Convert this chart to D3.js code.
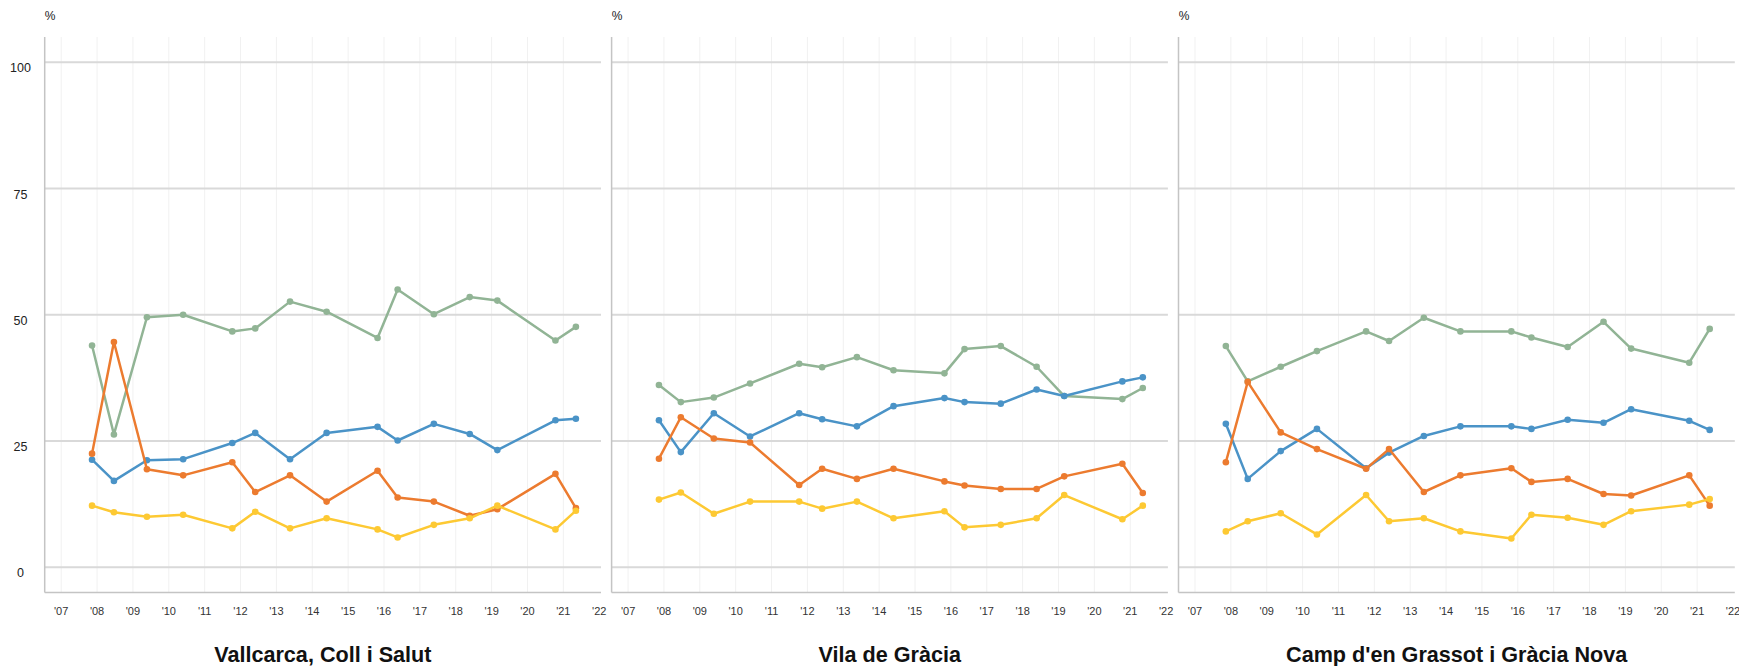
<!DOCTYPE html>
<html>
<head>
<meta charset="utf-8">
<script src="https://cdn.jsdelivr.net/npm/d3@7"></script>
<style>
  html, body { margin: 0; padding: 0; background: #fff; }
  svg { display: block; font-family: "Liberation Sans", Arial, sans-serif; }
</style>
</head>
<body>
<svg id="chart" width="1739" height="666"></svg>
<script>
// ---- DATA ----
const neighbourhoods = ["Vallcarca, Coll i Salut", "Vila de Gràcia", "Camp d'en Grassot i Gràcia Nova"];
// survey dates as fractional years
const dates = [2007.86, 2008.47, 2009.39, 2010.40, 2011.77, 2012.41, 2013.38, 2014.40, 2015.82, 2016.38, 2017.39, 2018.39, 2019.16, 2020.78, 2021.35];
const yearTicks = [2007, 2008, 2009, 2010, 2011, 2012, 2013, 2014, 2015, 2016, 2017, 2018, 2019, 2020, 2021, 2022];
const yTicks = [0, 25, 50, 75, 100];

// one row per neighbourhood
const greenValues = [
  [43.9, 26.3, 49.5, 50.0, 46.7, 47.3, 52.6, 50.6, 45.4, 55.0, 50.1, 53.5, 52.8, 44.9, 47.6],
  [36.1, 32.7, 33.6, 36.4, 40.3, 39.6, 41.6, 39.0, 38.4, 43.2, 43.8, 39.7, 33.9, 33.3, 35.5],
  [43.8, 36.8, 39.7, 42.8, 46.7, 44.8, 49.4, 46.7, 46.7, 45.5, 43.6, 48.6, 43.3, 40.5, 47.2]
];
const blueValues = [
  [21.3, 17.1, 21.2, 21.4, 24.6, 26.6, 21.4, 26.6, 27.8, 25.1, 28.4, 26.4, 23.2, 29.1, 29.4],
  [29.1, 22.8, 30.5, 25.9, 30.5, 29.3, 27.9, 31.9, 33.5, 32.7, 32.4, 35.2, 33.9, 36.8, 37.6],
  [28.4, 17.5, 23.0, 27.4, 19.6, 22.7, 26.0, 27.9, 27.9, 27.4, 29.2, 28.6, 31.3, 29.0, 27.2]
];
const orangeValues = [
  [22.5, 44.6, 19.4, 18.2, 20.8, 14.9, 18.2, 13.0, 19.1, 13.8, 13.0, 10.2, 11.5, 18.5, 11.7],
  [21.5, 29.7, 25.5, 24.7, 16.3, 19.5, 17.5, 19.5, 17.0, 16.2, 15.5, 15.5, 18.0, 20.5, 14.7],
  [20.8, 36.7, 26.7, 23.4, 19.5, 23.4, 14.9, 18.2, 19.6, 16.9, 17.5, 14.5, 14.2, 18.2, 12.2]
];
const yellowValues = [
  [12.2, 10.9, 10.0, 10.4, 7.7, 11.0, 7.7, 9.7, 7.5, 5.9, 8.4, 9.7, 12.2, 7.5, 11.2],
  [13.4, 14.8, 10.6, 13.0, 13.0, 11.6, 13.0, 9.7, 11.1, 7.9, 8.4, 9.7, 14.3, 9.5, 12.2],
  [7.1, 9.1, 10.7, 6.5, 14.3, 9.1, 9.7, 7.1, 5.7, 10.4, 9.8, 8.4, 11.1, 12.4, 13.5]
];
const seriesValues = [greenValues, blueValues, orangeValues, yellowValues];
const seriesColors = ["#91b495", "#4a93c7", "#ec7b2f", "#fdc933"];

// ---- LAYOUT ----
const svg = d3.select("#chart");
const panelW = 556.3, panelStep = 566.9, firstLeft = 44.7;
const plotTop = 37, plotBottom = 592.5;

const y = d3.scaleLinear().domain([-5, 105]).range([plotBottom, plotTop]);

neighbourhoods.forEach((name, p) => {
  const left = firstLeft + p * panelStep;
  const x = d3.scaleLinear().domain([2006.54, 2022.05]).range([left, left + panelW]);
  const g = svg.append("g");

  // vertical light gridlines
  g.selectAll(".vg").data(yearTicks.slice(0, -1)).enter().append("line")
    .attr("x1", d => x(d)).attr("x2", d => x(d))
    .attr("y1", plotTop).attr("y2", plotBottom)
    .attr("stroke", "#f1f1f1").attr("stroke-width", 1);

  // horizontal gridlines
  g.selectAll(".hg").data(yTicks).enter().append("line")
    .attr("x1", left).attr("x2", left + panelW)
    .attr("y1", d => y(d)).attr("y2", d => y(d))
    .attr("stroke", "#d9d9d9").attr("stroke-width", 2);

  // axis lines
  g.append("line").attr("x1", left).attr("x2", left).attr("y1", plotTop).attr("y2", plotBottom)
    .attr("stroke", "#c4c4c4").attr("stroke-width", 1.5);
  g.append("line").attr("x1", left).attr("x2", left + panelW).attr("y1", plotBottom).attr("y2", plotBottom)
    .attr("stroke", "#c4c4c4").attr("stroke-width", 1.5);

  // x tick labels
  g.selectAll(".xt").data(yearTicks).enter().append("text")
    .attr("x", d => x(d)).attr("y", 615)
    .attr("text-anchor", "middle")
    .attr("font-size", 11).attr("fill", "#333")
    .text(d => "'" + String(d).slice(2));

  // % label
  g.append("text").attr("x", left + 5.5).attr("y", 19.5)
    .attr("text-anchor", "middle").attr("font-size", 12).attr("fill", "#222").text("%");

  // y labels only on first panel
  if (p === 0) {
    g.selectAll(".yt").data(yTicks).enter().append("text")
      .attr("x", 20.5).attr("y", d => y(d) + 10.2)
      .attr("text-anchor", "middle").attr("font-size", 12.5).attr("fill", "#222")
      .text(d => d);
  }

  // series
  const line = d3.line().x((d, i) => x(dates[i])).y(d => y(d));
  seriesValues.forEach((vals, s) => {
    const data = vals[p];
    g.append("path").datum(data)
      .attr("d", line).attr("fill", "none")
      .attr("stroke", seriesColors[s]).attr("stroke-width", 2.5)
      .attr("stroke-linejoin", "round");
    g.selectAll(".pt" + s).data(data).enter().append("circle")
      .attr("cx", (d, i) => x(dates[i])).attr("cy", d => y(d))
      .attr("r", 3.3).attr("fill", seriesColors[s]);
  });

  // title
  g.append("text").attr("x", left + panelW / 2).attr("y", 662)
    .attr("text-anchor", "middle").attr("font-size", 21.6).attr("font-weight", "bold")
    .attr("fill", "#111").text(name);
});
</script>
</body>
</html>
